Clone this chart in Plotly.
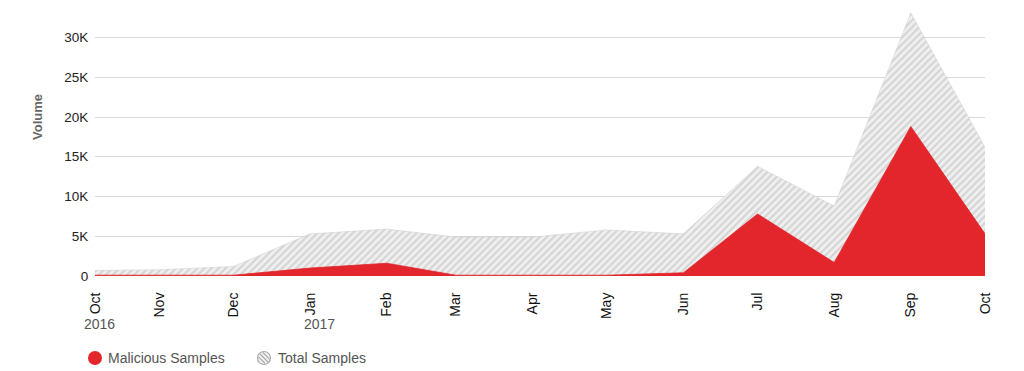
import math
import plotly.graph_objects as go

# Data
dates = ["2016-10-06", "2016-11-01", "2016-12-01", "2017-01-01", "2017-02-01",
         "2017-03-01", "2017-04-01", "2017-05-01", "2017-06-01", "2017-07-01",
         "2017-08-01", "2017-09-01", "2017-10-01"]
month_labels = ["Oct", "Nov", "Dec", "Jan", "Feb", "Mar", "Apr", "May", "Jun",
                "Jul", "Aug", "Sep", "Oct"]
total_samples = [700, 800, 1200, 5300, 5900, 4900, 4900, 5800, 5300, 13800, 8800, 33100, 16200]
malicious_samples = [100, 100, 100, 1000, 1600, 100, 100, 100, 400, 7800, 1700, 18800, 5300]
y_ticks = [0, 5000, 10000, 15000, 20000, 25000, 30000]
y_tick_labels = ["0", "5K", "10K", "15K", "20K", "25K", "30K"]
year_labels = [("2016-10-08", "2016"), ("2017-01-05", "2017")]
series_names = ["Malicious Samples", "Total Samples"]

RED = "#e2262c"
FONT = "Liberation Sans, Arial, sans-serif"

# plot area in page pixels (page has an 8px body margin)
PL, PR, PT, PB = 95, 985, 10, 276


def px(xp):
    return (xp - PL) / (PR - PL)


def py(yp):
    return (PB - yp) / (PB - PT)


fig = go.Figure()
fig.add_trace(go.Scatter(
    x=dates, y=total_samples, mode="lines", fill="tozeroy",
    line=dict(color="#cfcfcf", width=0.5),
    fillcolor="#ececec",
    fillpattern=dict(shape="/", fgcolor="#bababa", bgcolor="#f0f0f0", size=5, solidity=0.45),
    name=series_names[1], showlegend=False))
fig.add_trace(go.Scatter(
    x=dates, y=malicious_samples, mode="lines", fill="tozeroy",
    line=dict(color=RED, width=0.8), fillcolor=RED,
    name=series_names[0], showlegend=False))

# year labels
for xd, txt in year_labels:
    fig.add_annotation(x=xd, y=py(324), xref="x", yref="paper", text=txt, showarrow=False,
                       font=dict(family=FONT, size=14, color="#555555"), xanchor="center",
                       yanchor="middle")

# axis title
fig.add_annotation(x=px(38), y=py(117), xref="paper", yref="paper", text="<b>Volume</b>",
                   textangle=-90, showarrow=False, font=dict(family=FONT, size=13, color="#666666"),
                   xanchor="center", yanchor="middle")

# manual legend
leg_y = py(358)
shapes = []
shapes.append(dict(type="circle", xref="paper", yref="paper", xsizemode="pixel", ysizemode="pixel",
                   xanchor=px(95), yanchor=leg_y, x0=-7, x1=7, y0=-7, y1=7,
                   fillcolor=RED, line=dict(color=RED, width=0)))
shapes.append(dict(type="circle", xref="paper", yref="paper", xsizemode="pixel", ysizemode="pixel",
                   xanchor=px(264), yanchor=leg_y, x0=-6.5, x1=6.5, y0=-6.5, y1=6.5,
                   fillcolor="#f4f4f4", line=dict(color="#a9a9a9", width=1.2)))
r = 5.6
for k in (-4.4, 0.0, 4.4):
    d = math.sqrt(max(2 * r * r - k * k, 0))
    xa, xb = (-k - d) / 2, (-k + d) / 2
    shapes.append(dict(type="line", xref="paper", yref="paper", xsizemode="pixel", ysizemode="pixel",
                       xanchor=px(264), yanchor=leg_y, x0=xa, x1=xb, y0=-(xa + k), y1=-(xb + k),
                       line=dict(color="#a9a9a9", width=1.2)))
fig.add_annotation(x=px(106), y=leg_y, xref="paper", yref="paper", text=series_names[0],
                   showarrow=False, xanchor="left", yanchor="middle",
                   font=dict(family=FONT, size=14, color="#555555"))
fig.add_annotation(x=px(276), y=leg_y, xref="paper", yref="paper", text=series_names[1],
                   showarrow=False, xanchor="left", yanchor="middle",
                   font=dict(family=FONT, size=14, color="#555555"))

fig.update_layout(
    width=1016, height=363,
    margin=dict(l=87, r=39, t=2, b=95),
    paper_bgcolor="white", plot_bgcolor="white",
    font=dict(family=FONT, size=12, color="#333333"),
    showlegend=False,
    shapes=shapes,
    xaxis=dict(type="date", range=[dates[0], dates[-1]], tickvals=dates, ticktext=month_labels,
               tickangle=-90, showgrid=False, zeroline=False, showline=False,
               ticks="outside", ticklen=10, tickcolor="rgba(0,0,0,0)", automargin=False,
               tickfont=dict(family=FONT, size=14, color="#111111")),
    yaxis=dict(range=[0, 33460], tickvals=y_ticks, ticktext=y_tick_labels, showgrid=True,
               gridcolor="#d9d9d9", gridwidth=1, zeroline=False, showline=False,
               ticks="outside", ticklen=3, tickcolor="rgba(0,0,0,0)", automargin=False,
               tickfont=dict(family=FONT, size=13.5, color="#222222")),
)

fig.write_html("out.html")
